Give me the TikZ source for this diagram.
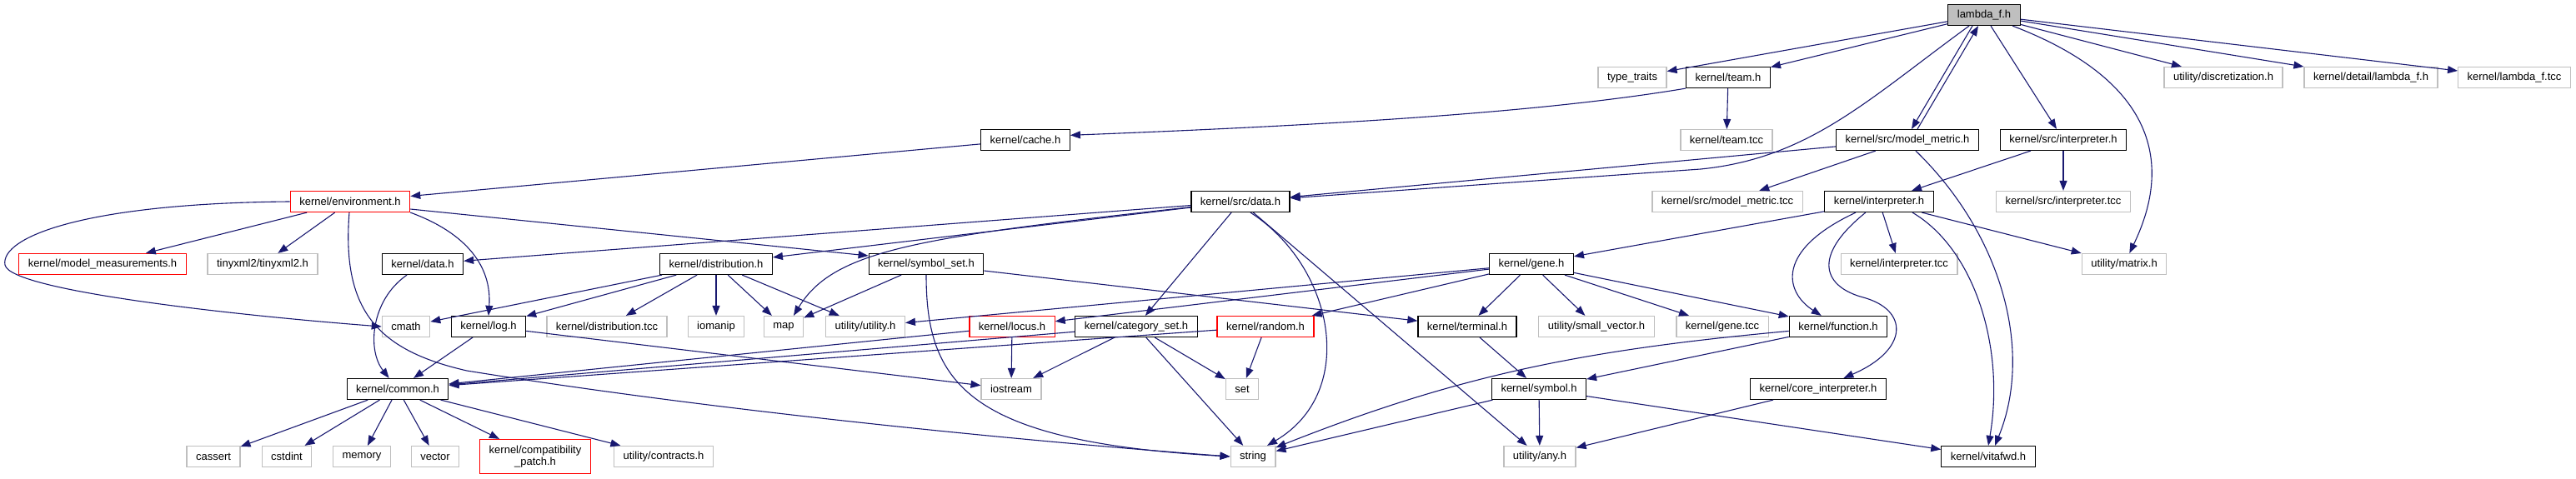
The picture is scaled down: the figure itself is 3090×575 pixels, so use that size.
\documentclass[tikz,border=0pt]{standalone}
\usepackage{fontspec}
\setmainfont{Liberation Sans}
\usetikzlibrary{arrows.meta}
\definecolor{edgeblue}{HTML}{191970}
\definecolor{grey75}{HTML}{BFBFBF}

\begin{document}
\begin{tikzpicture}[x=1pt, y=-1pt,
  filebox/.style={rectangle, draw, fill=white, line width=1.2pt, font=\fontsize{13}{14}\selectfont, inner xsep=11pt, inner ysep=0pt, minimum height=25pt},
  hdr/.style={filebox, draw=black},
  sys/.style={filebox, draw=grey75},
  miss/.style={filebox, draw=red},
  root/.style={filebox, draw=black, fill=grey75},
  dep/.style={draw=edgeblue, line width=1.1pt, -{Triangle[length=12pt, width=9pt]}}
]
  \useasboundingbox (0,0) rectangle (3090,575);

  % Row 0
  \node[root] (lambda) at (2380,18) {lambda\_f.h};

  % Row 1
  \node[sys] (typetraits) at (1958,93) {type\_traits};
  \node[hdr] (team) at (2073,93) {kernel/team.h};
  \node[sys] (discr) at (2667,93) {utility/discretization.h};
  \node[sys] (detaillam) at (2844,93) {kernel/detail/lambda\_f.h};
  \node[sys] (lamtcc) at (3016,93) {kernel/lambda\_f.tcc};

  % Row 2
  \node[hdr] (cache) at (1230,168) {kernel/cache.h};
  \node[sys] (teamtcc) at (2071,168) {kernel/team.tcc};
  \node[hdr] (srcmetric) at (2288,168) {kernel/src/model\_metric.h};
  \node[hdr] (srcinterp) at (2475,168) {kernel/src/interpreter.h};

  % Row 3
  \node[miss] (environment) at (420,242) {kernel/environment.h};
  \node[hdr] (srcdata) at (1488,242) {kernel/src/data.h};
  \node[sys] (metrictcc) at (2072,242) {kernel/src/model\_metric.tcc};
  \node[hdr] (interp) at (2254,242) {kernel/interpreter.h};
  \node[sys] (srcinterptcc) at (2475,242) {kernel/src/interpreter.tcc};

  % Row 4
  \node[miss] (measure) at (123,317) {kernel/model\_measurements.h};
  \node[sys] (tinyxml) at (315,317) {tinyxml2/tinyxml2.h};
  \node[hdr] (data) at (507,317) {kernel/data.h};
  \node[hdr] (distrib) at (859,317) {kernel/distribution.h};
  \node[hdr] (symset) at (1111,317) {kernel/symbol\_set.h};
  \node[hdr] (gene) at (1837,317) {kernel/gene.h};
  \node[sys] (interptcc) at (2278,317) {kernel/interpreter.tcc};
  \node[sys] (matrix) at (2548,317) {utility/matrix.h};

  % Row 5
  \node[sys] (cmath) at (487,392) {cmath};
  \node[hdr] (log) at (586,392) {kernel/log.h};
  \node[sys] (disttcc) at (728,392) {kernel/distribution.tcc};
  \node[sys] (iomanip) at (859,392) {iomanip};
  \node[sys] (map) at (940,392) {map};
  \node[sys] (utility) at (1038,392) {utility/utility.h};
  \node[miss] (locus) at (1214,392) {kernel/locus.h};
  \node[hdr] (catset) at (1363,392) {kernel/category\_set.h};
  \node[miss] (random) at (1518,392) {kernel/random.h};
  \node[hdr] (terminal) at (1760,392) {kernel/terminal.h};
  \node[sys] (smallvec) at (1915,392) {utility/small\_vector.h};
  \node[sys] (genetcc) at (2066,392) {kernel/gene.tcc};
  \node[hdr] (function) at (2205,392) {kernel/function.h};

  % Row 6
  \node[hdr] (common) at (477,467) {kernel/common.h};
  \node[sys] (iostream) at (1213,467) {iostream};
  \node[sys] (set) at (1490,467) {set};
  \node[hdr] (symbol) at (1846,467) {kernel/symbol.h};
  \node[hdr] (coreinterp) at (2181,467) {kernel/core\_interpreter.h};

  % Row 7
  \node[sys] (cassert) at (256,548) {cassert};
  \node[sys] (cstdint) at (344,548) {cstdint};
  \node[sys] (memory) at (434,548) {memory};
  \node[sys] (vector) at (522,548) {vector};
  \node[miss, align=center, minimum height=41pt] (compat) at (642,548) {kernel/compatibility\\\_patch.h};
  \node[sys] (contracts) at (796,548) {utility/contracts.h};
  \node[sys] (string) at (1503,548) {string};
  \node[sys] (any) at (1847,548) {utility/any.h};
  \node[hdr] (vitafwd) at (2385,548) {kernel/vitafwd.h};

  % lambda_f.h
  \draw[dep] (lambda) -- (typetraits);
  \draw[dep] (lambda) -- (team);
  \draw[dep] (lambda) .. controls (2240,120) and (2170,190) .. (2040,203) -- (srcdata);
  \draw[dep] ([xshift=-14pt]lambda.south) -- ([xshift=5pt]srcmetric.north);
  \draw[dep] ([xshift=8pt]lambda.south) -- ([xshift=-8pt]srcinterp.north);
  \draw[dep] (lambda) .. controls (2620,110) and (2590,230) .. (matrix);
  \draw[dep] (lambda) -- (discr);
  \draw[dep] (lambda) -- (detaillam);
  \draw[dep] (lambda) -- (lamtcc);

  % kernel/team.h, kernel/cache.h
  \draw[dep] (team.south west) .. controls (1850,135) and (1600,150) .. (cache.6);
  \draw[dep] (team) -- (teamtcc);
  \draw[dep] (cache) -- (environment);

  % kernel/src/model_metric.h
  \draw[dep] ([xshift=12pt]srcmetric.north) -- ([xshift=-7pt]lambda.south);
  \draw[dep] (srcmetric) -- (srcdata);
  \draw[dep] (srcmetric) -- (metrictcc);
  \draw[dep] ([xshift=10pt]srcmetric.south) .. controls (2400,280) and (2440,420) .. ([xshift=8pt]vitafwd.north);

  % kernel/src/interpreter.h
  \draw[dep] (srcinterp) -- (interp);
  \draw[dep] (srcinterp) -- (srcinterptcc);

  % kernel/environment.h
  \draw[dep] (environment.west) .. controls (100,244) and (0,285) .. (6,318) .. controls (12,350) and (300,380) .. (cmath.west);
  \draw[dep] (environment) -- (measure);
  \draw[dep] (environment) -- (tinyxml);
  \draw[dep] (environment.south east) .. controls (560,280) and (590,320) .. (log.north);
  \draw[dep] ([yshift=-9pt]environment.east) -- ([yshift=10pt]symset.west);
  \draw[dep] (environment) .. controls (410,370) and (450,420) .. (560,445) .. controls (900,500) and (1300,535) .. (string.west);

  % kernel/src/data.h
  \draw[dep] (srcdata) -- (data);
  \draw[dep] (srcdata) -- (distrib);
  \draw[dep] (srcdata) .. controls (1100,285) and (1000,300) .. ([xshift=12pt]map.north);
  \draw[dep] (srcdata) -- (catset);
  \draw[dep] ([xshift=12pt]srcdata.south) .. controls (1600,320) and (1630,470) .. ([xshift=17pt]string.north);
  \draw[dep] (srcdata) -- (any);

  % kernel/interpreter.h
  \draw[dep] (interp) -- (gene);
  \draw[dep] (interp) .. controls (2130,300) and (2140,350) .. (function);
  \draw[dep] (interp) .. controls (2170,310) and (2190,345) .. (2235,357) .. controls (2290,372) and (2290,420) .. (coreinterp);
  \draw[dep] (interp) -- (interptcc);
  \draw[dep] ([xshift=40pt]interp.south) .. controls (2370,300) and (2405,420) .. (vitafwd.north);
  \draw[dep] (interp) -- (matrix);

  % Row 4 headers
  \draw[dep] (data) .. controls (445,360) and (440,420) .. (common);
  \draw[dep] (distrib) -- (cmath);
  \draw[dep] (distrib) -- (log);
  \draw[dep] (distrib) -- (disttcc);
  \draw[dep] (distrib) -- (iomanip);
  \draw[dep] (distrib) -- (map);
  \draw[dep] (distrib) -- (utility);
  \draw[dep] (symset) -- (map);
  \draw[dep] (symset) -- (terminal);
  \draw[dep] (symset.south) .. controls (1111,460) and (1160,530) .. (string.west);
  \draw[dep] (gene) -- (utility);
  \draw[dep] (gene) -- (locus);
  \draw[dep] (gene) -- (random);
  \draw[dep] (gene) -- (terminal);
  \draw[dep] (gene) -- (smallvec);
  \draw[dep] (gene) -- (genetcc);
  \draw[dep] (gene) -- (function);

  % Row 5 headers
  \draw[dep] (log) -- (common);
  \draw[dep] (log) -- (iostream);
  \draw[dep] (locus) -- (iostream);
  \draw[dep] (locus) -- (common);
  \draw[dep] (catset) -- (iostream);
  \draw[dep] (catset) -- (set);
  \draw[dep] (catset) -- (string);
  \draw[dep] (catset) -- (common);
  \draw[dep] (random) -- (set);
  \draw[dep] (random) -- (common);
  \draw[dep] (terminal) -- (symbol);
  \draw[dep] (function) .. controls (1900,420) and (1750,450) .. (string);
  \draw[dep] (function) -- (symbol);

  % Row 6 headers
  \draw[dep] (symbol) -- (string);
  \draw[dep] (symbol) -- (any);
  \draw[dep] (symbol) -- (vitafwd);
  \draw[dep] (coreinterp) -- (any);
  \draw[dep] (common) -- (cassert);
  \draw[dep] (common) -- (cstdint);
  \draw[dep] (common) -- (memory);
  \draw[dep] (common) -- (vector);
  \draw[dep] (common) -- (compat);
  \draw[dep] (common) -- (contracts);
\end{tikzpicture}
\end{document}
